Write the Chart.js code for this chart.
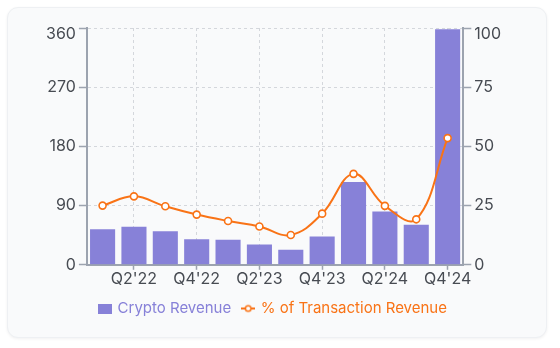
<!DOCTYPE html>
<html>
<head>
<meta charset="utf-8">
<script src="https://cdn.jsdelivr.net/npm/chart.js@4.4.1/dist/chart.umd.min.js"></script>
<style>
  html, body { margin: 0; padding: 0; background: #ffffff; width: 560px; height: 348px; overflow: hidden; }
  #card { position: absolute; left: 7px; top: 7px; width: 540px; height: 331px; box-sizing: border-box;
          background: #f9fafb; border: 1px solid #eef0f3; border-radius: 11px;
          box-shadow: 0 1px 3px rgba(0,0,0,0.06); }
  #wrap { position: absolute; left: 0; top: 0; width: 543px; height: 332px; }
</style>
</head>
<body>
<div id="card"></div>
<div id="wrap"><canvas id="c"></canvas></div>
<script>
const categories = ["Q1'22","Q2'22","Q3'22","Q4'22","Q1'23","Q2'23","Q3'23","Q4'23","Q1'24","Q2'24","Q3'24","Q4'24"];
const cryptoRevenue = [54, 58, 51, 39, 38, 31, 23, 43, 126, 81, 61, 358];
const pctTransactionRevenue = [25, 28.9, 24.7, 21.2, 18.5, 16.2, 12.6, 21.6, 38.4, 24.9, 19.2, 53.5];
const leftTicks = [0, 90, 180, 270, 360];
const rightTicks = [0, 25, 50, 75, 100];

const barColor = '#8781d8';
const lineColor = '#f97316';
const gridColor = '#d4d7dc';
const axisColor = '#9ca3af';
const tickText = '#474b52';
const FAMILY = 'Inter, "Noto Sans", sans-serif';

function boxImg() {
  const c = document.createElement('canvas'); c.width = 14; c.height = 10;
  const g = c.getContext('2d'); g.fillStyle = barColor; g.fillRect(0, 0, 14, 10); return c;
}
function lineImg() {
  const c = document.createElement('canvas'); c.width = 14; c.height = 10;
  const g = c.getContext('2d');
  g.strokeStyle = lineColor; g.lineWidth = 2;
  g.beginPath(); g.moveTo(0, 5); g.lineTo(14, 5); g.stroke();
  g.beginPath(); g.arc(7, 5, 2.8, 0, Math.PI * 2); g.fillStyle = '#fff'; g.fill();
  g.lineWidth = 1.5; g.stroke();
  return c;
}
// top tick label sits a little below its grid line in the reference
function yFont(topValue) {
  return (ctx) => ({ family: FAMILY, size: 16, lineHeight: (ctx.tick && ctx.tick.value === topValue) ? '12px' : 1.2 });
}
function yLabel(topValue) {
  return (v) => (v === topValue ? ['', String(v)] : String(v));
}

new Chart(document.getElementById('c'), {
  data: {
    labels: categories,
    datasets: [
      {
        type: 'line', label: '% of Transaction Revenue', data: pctTransactionRevenue, yAxisID: 'y1',
        borderColor: lineColor, backgroundColor: '#ffffff', borderWidth: 2, tension: 0.4,
        pointRadius: 3.5, pointBorderWidth: 1.6, pointBackgroundColor: '#ffffff', pointBorderColor: lineColor,
        order: 0
      },
      {
        type: 'bar', label: 'Crypto Revenue', data: cryptoRevenue, yAxisID: 'y',
        backgroundColor: barColor, borderWidth: 0,
        categoryPercentage: 0.8, barPercentage: 1.0, order: 1
      }
    ]
  },
  options: {
    responsive: true, maintainAspectRatio: false, animation: false,
    layout: { padding: { left: 43, right: 39, top: 28, bottom: 6 } },
    plugins: {
      tooltip: { enabled: false },
      legend: {
        position: 'bottom',
        labels: {
          usePointStyle: true, pointStyleWidth: 10, boxHeight: 10, padding: 12,
          font: { family: FAMILY, size: 15 },
          generateLabels: (chart) => {
            return [
              { text: 'Crypto Revenue', pointStyle: boxImg(), fontColor: barColor, datasetIndex: 1, hidden: false, lineWidth: 0 },
              { text: '% of Transaction Revenue', pointStyle: lineImg(), fontColor: lineColor, datasetIndex: 0, hidden: false, lineWidth: 0 }
            ];
          }
        }
      }
    },
    scales: {
      x: {
        grid: {
          offset: false,
          color: (ctx) => (ctx.index % 2 === 1 ? gridColor : 'rgba(0,0,0,0)'),
          tickColor: (ctx) => (ctx.index % 2 === 1 ? axisColor : 'rgba(0,0,0,0)'),
          tickLength: 5, lineWidth: 1, tickWidth: 1.5
        },
        border: { display: true, color: axisColor, width: 2, dash: [3, 3] },
        ticks: {
          autoSkip: false, maxRotation: 0, padding: 0, color: tickText,
          font: { family: FAMILY, size: 16 },
          callback: (v, i) => (i % 2 === 1 ? categories[i] : '')
        }
      },
      y: {
        position: 'left', min: 0, max: 360,
        afterBuildTicks: (s) => { s.ticks = leftTicks.map(v => ({ value: v })); },
        grid: { color: gridColor, tickColor: axisColor, tickLength: 8, tickWidth: 1.5 },
        border: { display: true, color: axisColor, width: 2, dash: [3, 3] },
        ticks: { color: tickText, padding: 3, font: yFont(360), callback: yLabel(360) }
      },
      y1: {
        position: 'right', min: 0, max: 100,
        afterBuildTicks: (s) => { s.ticks = rightTicks.map(v => ({ value: v })); },
        grid: { drawOnChartArea: false, tickColor: axisColor, tickLength: 8, tickWidth: 1.5 },
        border: { display: true, color: axisColor, width: 2 },
        ticks: { color: tickText, padding: 3, font: yFont(100), callback: yLabel(100) }
      }
    }
  }
});
</script>
</body>
</html>
